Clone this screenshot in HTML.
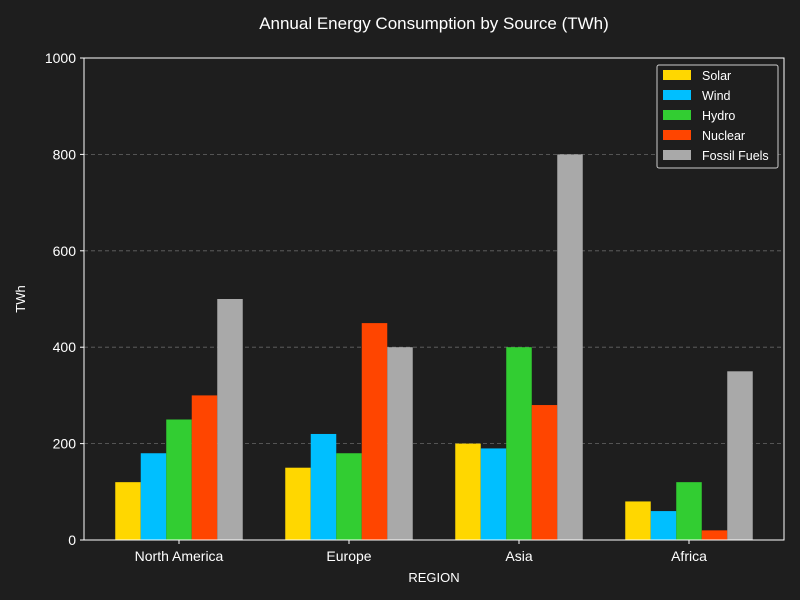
<!DOCTYPE html>
<html><head><meta charset="utf-8">
<style>
html,body{margin:0;padding:0;background:#1e1e1e;}
svg{display:block;font-family:"Liberation Sans","DejaVu Sans",sans-serif;}
</style></head>
<body>
<svg id="chart" width="800" height="600" viewBox="0 0 800 600">
<rect x="0" y="0" width="800" height="600" fill="#1e1e1e"/>
<text x="434" y="29" fill="#ffffff" font-size="17" text-anchor="middle">Annual Energy Consumption by Source (TWh)</text>
<g id="grid"></g>
<g id="bars"></g>
<rect x="84" y="58" width="700" height="482" fill="none" stroke="#ffffff" stroke-width="1"/>
<g id="axes"></g>
<text x="434" y="582" fill="#ffffff" font-size="13" text-anchor="middle">REGION</text>
<text x="25" y="299" fill="#ffffff" font-size="13" text-anchor="middle" transform="rotate(-90 25 299)">TWh</text>
<g id="legend"></g>
</svg>
<script>
const categories = ["North America","Europe","Asia","Africa"];
const seriesNames = ["Solar","Wind","Hydro","Nuclear","Fossil Fuels"];
const solar = [120,150,200,80];
const wind = [180,220,190,60];
const hydro = [250,180,400,120];
const nuclear = [300,450,280,20];
const fossil = [500,400,800,350];
const yTicks = [0,200,400,600,800,1000];
const colors = ["#FFD700","#00BFFF","#32CD32","#FF4500","#A9A9A9"];
const series = [solar,wind,hydro,nuclear,fossil];

const NS="http://www.w3.org/2000/svg";
const L=84,R=784,T=58,B=540,yMax=1000;
const y=v=>B-(v/yMax)*(B-T);
const groupW=170, x0=179;
const xC=i=>x0+i*groupW;
const bw=25.5;
function mk(tag,attrs,parent){const e=document.createElementNS(NS,tag);for(const k in attrs)e.setAttribute(k,attrs[k]);parent.appendChild(e);return e;}
const grid=document.getElementById('grid'),axes=document.getElementById('axes'),bars=document.getElementById('bars'),leg=document.getElementById('legend');
yTicks.forEach(t=>{
  if(t>0&&t<yMax){const g=mk('line',{x1:L,x2:R,y1:y(t),y2:y(t),stroke:'#666',"stroke-dasharray":'4,3',"stroke-width":0.8},grid);
  
  }
  const tk=mk('line',{x1:L-4,x2:L,y1:y(t),y2:y(t),stroke:'#fff'},axes);
  
  
  const tx=mk('text',{x:L-8,y:y(t)+5,fill:'#fff',"font-size":14,"text-anchor":'end'},axes);
  tx.textContent=t;
  
  
});
categories.forEach((c,i)=>{
  const tk=mk('line',{x1:xC(i),x2:xC(i),y1:B,y2:B+4,stroke:'#fff'},axes);
  
  
  const tx=mk('text',{x:xC(i),y:B+21,fill:'#fff',"font-size":14,"text-anchor":'middle'},axes);
  tx.textContent=c;
  
  
  series.forEach((s,j)=>{
    const bx=xC(i)+(j-2.5)*bw;
    const r=mk('rect',{x:bx,y:y(s[i]),width:bw,height:B-y(s[i]),fill:colors[j]},bars);
    
    
  });
});
const lb=mk('rect',{x:657,y:65,width:121,height:103,rx:2,fill:'#1e1e1e',stroke:'#ccc',"stroke-width":1},leg);


seriesNames.forEach((n,j)=>{
  const yy=70+j*20;
  const sw=mk('rect',{x:663,y:yy,width:28,height:10,fill:colors[j]},leg);
  
  
  const t=mk('text',{x:702,y:yy+10,fill:'#fff',"font-size":12.5},leg);
  t.textContent=n;
  
  
});
</script>
</body></html>
